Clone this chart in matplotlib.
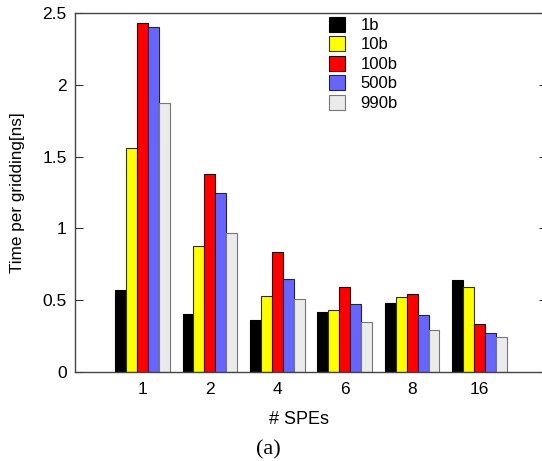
import matplotlib.pyplot as plt
import numpy as np

spes = ["1", "2", "4", "6", "8", "16"]
series = ["1b", "10b", "100b", "500b", "990b"]
t_1b = [0.57, 0.405, 0.36, 0.415, 0.48, 0.64]
t_10b = [1.56, 0.875, 0.53, 0.435, 0.525, 0.59]
t_100b = [2.43, 1.38, 0.835, 0.59, 0.54, 0.335]
t_500b = [2.40, 1.245, 0.65, 0.475, 0.395, 0.275]
t_990b = [1.87, 0.965, 0.51, 0.35, 0.29, 0.245]

colors = ["#000000", "#ffff00", "#ff0000", "#6666ff", "#ebebeb"]
edges = ["#000000", "#333300", "#330000", "#222244", "#777777"]

plt.rcParams["font.family"] = ["Liberation Sans", "DejaVu Sans"]

W, H = 542, 461
fig = plt.figure(figsize=(W / 100, H / 100), dpi=100)
ax = fig.add_axes([75 / W, 1 - 372 / H, (547 - 75) / W, (372 - 13) / H])

x = np.arange(1, len(spes) + 1)
width = 0.162
for i, vals in enumerate([t_1b, t_10b, t_100b, t_500b, t_990b]):
    ax.bar(x + (i - 2) * width, vals, width, color=colors[i], edgecolor=edges[i],
           linewidth=0.8, label=series[i])

ax.set_xlim(0, 7)
ax.set_ylim(0, 2.5)
ax.set_yticks([0, 0.5, 1, 1.5, 2, 2.5])
ax.set_yticklabels(["0", "0.5", "1", "1.5", "2", "2.5"])
ax.set_xticks(x)
ax.set_xticklabels(spes)
ax.tick_params(axis="y", direction="in", length=6, right=True, labelsize=12.5, pad=6, color="#333333")
ax.tick_params(axis="x", length=0, labelsize=12.5, pad=7)
for s in ax.spines.values():
    s.set_color("#444444")
    s.set_linewidth(1.0)

ax.set_ylabel("Time per gridding[ns]", fontsize=12.3)
ax.yaxis.set_label_coords(-(75 - 25) / (547 - 75), 0.5)
ax.set_xlabel("# SPEs", fontsize=13)
ax.xaxis.set_label_coords((299 - 75) / (547 - 75), -(411 - 372) / (372 - 13))

leg = ax.legend(loc="upper left", bbox_to_anchor=((317 - 75) / (547 - 75), 1.022),
                frameon=False, fontsize=12, handlelength=1.0, handleheight=1.0,
                handletextpad=0.9, labelspacing=0.2, borderaxespad=0.3)

fig.text(268 / W, 1 - 450 / H, "(a)", ha="center", va="center",
         fontsize=16, family=["Liberation Serif", "DejaVu Serif"])

fig.savefig("out.png", dpi=100)
